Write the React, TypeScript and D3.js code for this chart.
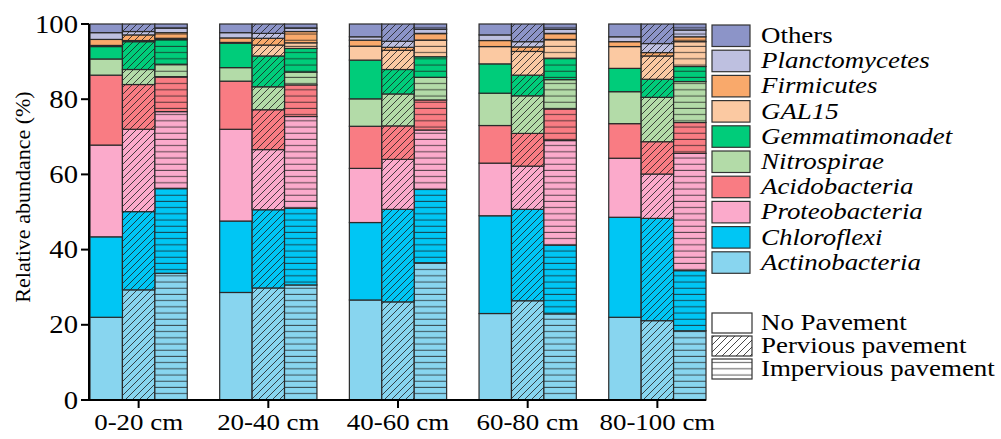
import React from 'react';
import * as d3 from 'd3';

const depths = ['0-20 cm', '20-40 cm', '40-60 cm', '60-80 cm', '80-100 cm'];
const treatments = ['No Pavement', 'Pervious pavement', 'Impervious pavement'];
// stacking order, bottom to top
const phyla = ['Actinobacteria', 'Chloroflexi', 'Proteobacteria', 'Acidobacteria', 'Nitrospirae',
  'Gemmatimonadet', 'GAL15', 'Firmicutes', 'Planctomycetes', 'Others'];
const phylaColors = ['#88d5ef', '#00c6f4', '#fbaacb', '#f97c83', '#b3dba8',
  '#00cc7a', '#fbc9a2', '#f9a96b', '#bec0e0', '#8c94c8'];

// values per bar: depth by depth, NP / P / IP
const actinobacteria = [22.0, 29.3, 33.7, 28.6, 29.8, 30.6, 26.6, 26.1, 36.5, 23.0, 26.4, 22.9, 22.0, 21.1, 18.4];
const chloroflexi = [21.4, 20.8, 22.6, 19.0, 20.8, 20.4, 20.6, 24.6, 19.5, 26.0, 24.3, 18.3, 26.6, 27.2, 16.0];
const proteobacteria = [24.4, 21.9, 20.4, 24.4, 16.0, 24.4, 14.4, 13.3, 15.8, 14.0, 11.5, 27.8, 15.7, 11.8, 31.2];
const acidobacteria = [18.6, 11.9, 9.3, 12.8, 10.6, 8.4, 11.2, 8.9, 8.0, 10.0, 8.7, 8.4, 9.2, 8.6, 8.2];
const nitrospirae = [4.3, 4.0, 3.3, 3.6, 6.1, 3.4, 7.3, 8.5, 6.0, 8.6, 10.0, 7.8, 8.5, 11.8, 10.9];
const gemmatimonadet = [3.3, 7.4, 6.6, 6.5, 8.2, 6.3, 10.3, 6.5, 5.5, 7.8, 5.5, 5.7, 6.2, 4.8, 4.0];
const gal15 = [0.3, 0.3, 0.3, 0.2, 2.9, 1.5, 3.7, 5.1, 4.4, 4.6, 6.3, 5.0, 5.8, 6.2, 6.6];
const firmicutes = [1.6, 1.5, 1.5, 1.2, 1.8, 3.0, 1.6, 0.8, 1.8, 1.6, 1.2, 1.6, 1.3, 0.9, 1.3];
const planctomycetes = [1.8, 0.9, 1.2, 1.4, 1.3, 0.9, 0.9, 1.6, 1.1, 1.5, 1.4, 1.1, 1.3, 2.4, 1.8];
const others = [2.3, 2.0, 1.1, 2.3, 2.5, 1.1, 3.4, 4.6, 1.4, 2.9, 4.7, 1.4, 3.4, 5.2, 1.6];

const yTicks = [0, 20, 40, 60, 80, 100];

const seriesValues = [actinobacteria, chloroflexi, proteobacteria, acidobacteria, nitrospirae,
  gemmatimonadet, gal15, firmicutes, planctomycetes, others];

const font = '"Liberation Serif", "Times New Roman", serif';
const SX = 1.17; // the figure is a bit wider than tall

function App() {
  const rows = depths.flatMap((dep, di) => treatments.map((tr, ti) => {
    const r: any = { depth: dep, treatment: tr };
    phyla.forEach((p, pi) => { r[p] = seriesValues[pi][di * 3 + ti]; });
    return r;
  }));
  const stacked = d3.stack().keys(phyla)(rows);

  const x0 = d3.scaleBand().domain(depths).range([90, 706]).paddingInner(0.25);
  const x1 = d3.scaleBand().domain(treatments).range([0, x0.bandwidth()]);
  const y = d3.scaleLinear().domain([0, 100]).range([400, 24]);
  const patternFor = ['', 'url(#diag)', 'url(#horiz)'];

  const legendY = d3.scaleBand().domain([...phyla].reverse()).range([25, 277]);
  const patY = d3.scaleBand().domain(treatments).range([313, 382]);

  const stretched = (x: number, yy: number) => `translate(${x},${yy}) scale(${SX},1)`;

  return (
    <svg width={1001} height={439} style={{ position: 'absolute', left: 0, top: 0, fontFamily: font }}>
      <defs>
        <pattern id="diag" patternUnits="userSpaceOnUse" width={7} height={7}>
          <path d="M0,7 L7,0 M-1,1 L1,-1 M6,8 L8,6" stroke="#1d1d1d" strokeWidth={1} strokeOpacity={0.8} />
        </pattern>
        <pattern id="horiz" patternUnits="userSpaceOnUse" width={8} height={6.2}>
          <line x1={0} x2={8} y1={3} y2={3} stroke="#1d1d1d" strokeWidth={1} strokeOpacity={0.75} />
        </pattern>
      </defs>

      {stacked.map((s, si) => (
        <g key={s.key}>
          {s.map((d: any, i: number) => {
            const bx = x0(d.data.depth)! + x1(d.data.treatment)!;
            const ti = treatments.indexOf(d.data.treatment);
            const top = y(d[1]);
            const h = y(d[0]) - y(d[1]);
            return (
              <g key={i}>
                <rect x={bx} y={top} width={x1.bandwidth()} height={h} fill={phylaColors[si]} />
                {ti > 0 && <rect x={bx} y={top} width={x1.bandwidth()} height={h} fill={patternFor[ti]} />}
                <rect x={bx} y={top} width={x1.bandwidth()} height={h} fill="none" stroke="#2a2a2a" strokeWidth={1.2} />
              </g>
            );
          })}
        </g>
      ))}

      {/* axes */}
      <line x1={89} x2={89} y1={y(100)} y2={y(0)} stroke="#000" strokeWidth={2} />
      <line x1={88} x2={706} y1={y(0)} y2={y(0)} stroke="#000" strokeWidth={2} />
      {yTicks.map(t => (
        <g key={t}>
          <line x1={81} x2={89} y1={y(t)} y2={y(t)} stroke="#000" strokeWidth={2} />
          <text transform={stretched(78, y(t) + 8.5)} textAnchor="end" fontSize={24.5}>{t}</text>
        </g>
      ))}
      {depths.map(dp => {
        const cx = x0(dp)! + x0.bandwidth() / 2;
        return (
          <g key={dp}>
            <line x1={cx} x2={cx} y1={y(0)} y2={y(0) + 8} stroke="#000" strokeWidth={2} />
            <text transform={stretched(cx, 430)} textAnchor="middle" fontSize={23}>{dp}</text>
          </g>
        );
      })}
      <text transform="translate(30,197) rotate(-90)" textAnchor="middle" fontSize={22}>Relative abundance (%)</text>

      {/* legend: phyla */}
      {[...phyla].reverse().map(p => {
        const ci = phyla.indexOf(p);
        const ty = legendY(p)!;
        return (
          <g key={p}>
            <rect x={712} y={ty} width={38} height={21.5} fill={phylaColors[ci]} stroke="#333" strokeWidth={1.2} />
            <text transform={stretched(761, ty + 18)} fontSize={23} fontStyle={p === 'Others' ? 'normal' : 'italic'}>{p}</text>
          </g>
        );
      })}

      {/* legend: pavement */}
      {treatments.map((t, ti) => {
        const ty = patY(t)!;
        return (
          <g key={t}>
            <rect x={712} y={ty} width={40} height={20} fill="#fff" />
            {ti > 0 && <rect x={712} y={ty} width={40} height={20} fill={patternFor[ti]} />}
            <rect x={712} y={ty} width={40} height={20} fill="none" stroke="#333" strokeWidth={1.2} />
            <text transform={stretched(761, ty + 17)} fontSize={23}>{t}</text>
          </g>
        );
      })}
    </svg>
  );
}

export default App;
